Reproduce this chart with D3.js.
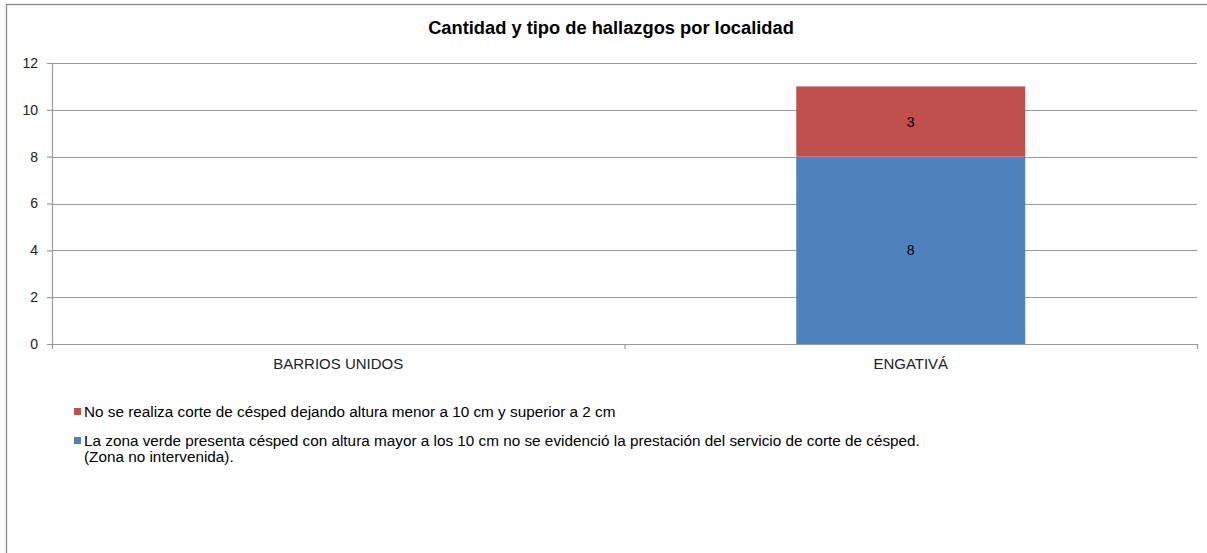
<!DOCTYPE html>
<html>
<head>
<meta charset="utf-8">
<script src="https://cdn.jsdelivr.net/npm/d3@7"></script>
<style>
  body { margin: 0; background: #fff; }
  svg { font-family: "Liberation Sans", Arial, sans-serif; }
</style>
</head>
<body>
<div id="root"></div>
<script>
const categories = ["BARRIOS UNIDOS", "ENGATIVÁ"];
const seriesNames = [
  "La zona verde presenta césped con altura mayor a los 10 cm no se evidenció la prestación del servicio de corte de césped.",
  "No se realiza corte de césped dejando altura menor a 10 cm y superior a 2 cm"
];
const zonaNoIntervenida = [0, 8];
const corteIncorrecto = [0, 3];
const yTicks = [0, 2, 4, 6, 8, 10, 12];
const colors = ["#4F81BD", "#C0504D"];

const W = 1207, H = 553;
const margin = { top: 63, right: 10, bottom: 209, left: 52 };
const width = 1197 - margin.left;
const height = 344 - margin.top;

const svg = d3.select("#root").append("svg")
  .attr("width", W).attr("height", H);

// outer chart border
svg.append("rect")
  .attr("x", 6.5).attr("y", 4.5)
  .attr("width", W + 10).attr("height", H + 10)
  .attr("fill", "none").attr("stroke", "#8a8a8a").attr("stroke-width", 1.3);

svg.append("text")
  .attr("x", 611).attr("y", 34)
  .attr("text-anchor", "middle")
  .attr("font-size", 18.3).attr("font-weight", "bold")
  .attr("fill", "#000")
  .text("Cantidad y tipo de hallazgos por localidad");

const g = svg.append("g")
  .attr("transform", "translate(" + margin.left + "," + margin.top + ")");

const x = d3.scaleBand().domain(categories).range([0, width]).paddingInner(0).paddingOuter(0);
const y = d3.scaleLinear().domain([0, 12]).range([height, 0]);

// gridlines
g.selectAll(".grid").data(yTicks).enter().append("line")
  .attr("x1", 0).attr("x2", width)
  .attr("y1", d => Math.round(y(d)) + 0.5).attr("y2", d => Math.round(y(d)) + 0.5)
  .attr("stroke", "#9a9a9a").attr("stroke-width", 1.2);

// y axis
const gY = g.append("g").call(d3.axisLeft(y).tickValues(yTicks).tickSize(5).tickPadding(9));
gY.select(".domain").attr("stroke", "#9a9a9a").attr("stroke-width", 1.2).attr("d", "M0.5,0V" + height);
gY.selectAll(".tick line").attr("stroke", "#9a9a9a").attr("stroke-width", 1.2);
gY.selectAll(".tick text").attr("font-size", 14).attr("fill", "#222")
  .attr("font-family", "Liberation Sans, Arial, sans-serif");

// x axis ticks at category boundaries
const gX = g.append("g").attr("transform", "translate(0," + height + ")");
gX.append("line").attr("x1", 0).attr("x2", width).attr("y1", 0.5).attr("y2", 0.5)
  .attr("stroke", "#9a9a9a").attr("stroke-width", 1.2);
const bounds = categories.map(c => x(c)).concat([width]);
gX.selectAll(".xt").data(bounds).enter().append("line")
  .attr("x1", d => d + 0.5).attr("x2", d => d + 0.5)
  .attr("y1", 0).attr("y2", 5)
  .attr("stroke", "#9a9a9a").attr("stroke-width", 1.2);
gX.selectAll(".xl").data(categories).enter().append("text")
  .attr("x", d => x(d) + x.bandwidth() / 2).attr("y", 25)
  .attr("text-anchor", "middle").attr("font-size", 15).attr("fill", "#222")
  .text(d => d);

// stacked bars
const rows = categories.map((c, i) => ({ cat: c, s0: zonaNoIntervenida[i], s1: corteIncorrecto[i] }));
const stack = d3.stack().keys(["s0", "s1"])(rows);
const barW = x.bandwidth() / 2.5;
stack.forEach((layer, k) => {
  g.selectAll(".bar" + k).data(layer.filter(d => d[1] > d[0])).enter().append("rect")
    .attr("x", d => x(d.data.cat) + (x.bandwidth() - barW) / 2)
    .attr("width", barW)
    .attr("y", d => y(d[1]))
    .attr("height", d => y(d[0]) - y(d[1]))
    .attr("fill", colors[k]);
  g.selectAll(".lab" + k).data(layer.filter(d => d[1] > d[0])).enter().append("text")
    .attr("x", d => x(d.data.cat) + x.bandwidth() / 2)
    .attr("y", d => (y(d[0]) + y(d[1])) / 2 + 5)
    .attr("text-anchor", "middle").attr("font-size", 14).attr("fill", "#000")
    .text(d => d[1] - d[0]);
});

// legend (reverse order, like stacked charts)
const legend = svg.append("g").attr("transform", "translate(74,0)");
const items = [
  { name: seriesNames[1], color: colors[1], y: 412, extra: null },
  { name: seriesNames[0], color: colors[0], y: 441, extra: "(Zona no intervenida)." }
];
items.forEach(it => {
  legend.append("rect").attr("x", 0).attr("y", it.y - 4).attr("width", 7).attr("height", 7)
    .attr("fill", it.color);
  legend.append("text").attr("x", 10).attr("y", it.y + 5)
    .attr("font-size", 15.3).attr("fill", "#000").text(it.name);
  if (it.extra) {
    legend.append("text").attr("x", 10).attr("y", it.y + 21)
      .attr("font-size", 15.3).attr("fill", "#000").text(it.extra);
  }
});
</script>
</body>
</html>
